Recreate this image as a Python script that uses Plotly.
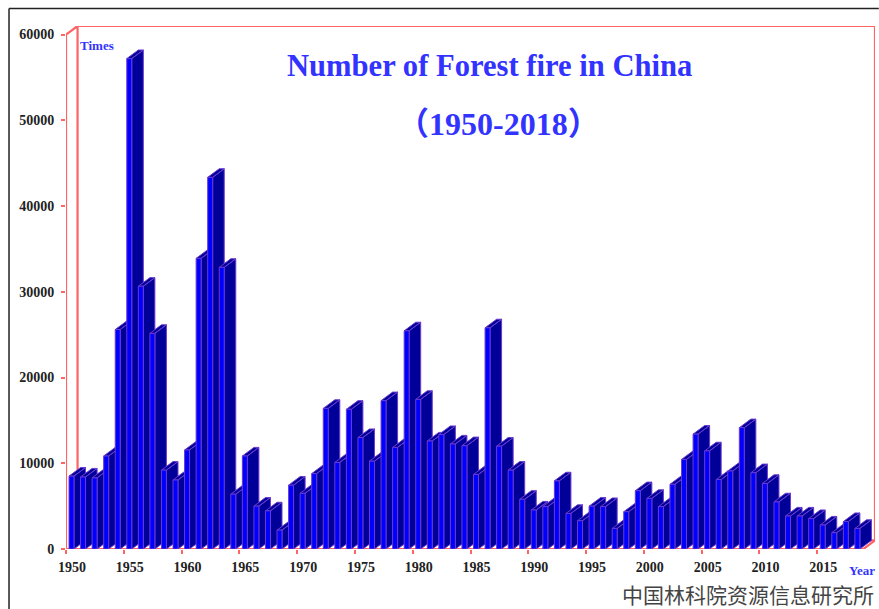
import plotly.graph_objects as go

# Annual forest fire counts in China
years = list(range(1950, 2019))
fire_counts = [
    8500, 8400, 8300, 10850, 25600, 57200, 30650, 25150, 9200, 8050,
    11550, 33900, 43350, 32850, 6400, 10850, 5000, 4450, 2200, 7450,
    6500, 8800, 16400, 10100, 16300, 13000, 10250, 17300, 11850, 25450,
    17450, 12600, 13350, 12250, 12050, 8700, 25800, 12000, 9200, 5800,
    4550, 4950, 7950, 4150, 3300, 5000, 4950, 2400, 4350, 6800,
    5900, 4950, 7550, 10450, 13400, 11450, 8100, 9100, 14150, 8900,
    7650, 5500, 3850, 3850, 3550, 2800, 1900, 3200, 2400,
]
y_ticks = [0, 10000, 20000, 30000, 40000, 50000, 60000]
x_ticks = list(range(1950, 2016, 5))

# Oblique depth of the pseudo-3D projection, in axis units
DEPTH_X = 1.0
DEPTH_Y = 1000
BAR_OFFSET = 0.26
BAR_WIDTH = 0.43

FRONT = "#0000FF"
SIDE = "#000099"
EDGE = "#6A3AD0"
WALL = "#FF6464"
LABEL_BLUE = "#3333FF"
SERIF = "Liberation Serif, Noto Sans CJK SC, serif"

W, H = 879, 609
M_L, M_R, M_T, M_B = 66, 3.8, 25.6, 60


def px(x):
    return (x - M_L) / (W - M_L - M_R)


def py(y):
    return 1 - (y - M_T) / (H - M_T - M_B)


fig = go.Figure()

# Wireframe of the chart box
wall_x = [1950, 1950, 1951, 1951, None, 1951, 2020, 2020, 2019, 1950, None, 1951, 2020]
wall_y = [0, 60000, 61000, 1000, None, 61000, 61000, 1000, 0, 0, None, 1000, 1000]
fig.add_trace(go.Scatter(x=wall_x, y=wall_y, mode="lines", hoverinfo="skip",
                         line=dict(color=WALL, width=2.2)))

# Bars, left to right, so each front face covers the previous bar's side
for year, count in zip(years, fire_counts):
    x0 = year + BAR_OFFSET
    x1 = x0 + BAR_WIDTH
    side_x = [x1, x1, x0, x0 + DEPTH_X, x1 + DEPTH_X, x1, x1 + DEPTH_X, x1 + DEPTH_X, x1]
    side_y = [0, count, count, count + DEPTH_Y, count + DEPTH_Y, count,
              count + DEPTH_Y, DEPTH_Y, 0]
    fig.add_trace(go.Scatter(x=side_x, y=side_y, mode="lines", fill="toself",
                             fillcolor=SIDE, hoverinfo="skip",
                             line=dict(color=EDGE, width=1)))
    fig.add_trace(go.Scatter(x=[x0, x0, x1, x1, x0], y=[0, count, count, 0, 0],
                             mode="lines", fill="toself", fillcolor=FRONT,
                             name=str(year), hovertemplate="%{fullData.name}<extra></extra>",
                             line=dict(color=EDGE, width=1)))

fig.update_layout(
    width=W, height=H, autosize=False,
    margin=dict(l=M_L, r=M_R, t=M_T, b=M_B),
    paper_bgcolor="white", plot_bgcolor="white",
    showlegend=False,
    font=dict(family=SERIF, color="#222222"),
    xaxis=dict(
        range=[1950, 2020], tickmode="array", tickvals=x_ticks,
        ticktext=[str(t) for t in x_ticks],
        ticks="outside", ticklen=4, tickwidth=1.5, tickcolor=WALL,
        ticklabelshift=6, ticklabelstandoff=1,
        tickfont=dict(family=SERIF, size=14, color="#222222", weight="bold"),
        showgrid=False, zeroline=False, showline=False,
    ),
    yaxis=dict(
        range=[0, 61000], tickmode="array", tickvals=y_ticks,
        ticks="outside", ticklen=4, tickwidth=1.5, tickcolor=WALL,
        ticklabelstandoff=4, tickformat="d",
        tickfont=dict(family=SERIF, size=14, color="#222222", weight="bold"),
        showgrid=False, zeroline=False, showline=False,
    ),
    shapes=[
        dict(type="line", xref="paper", yref="paper", x0=px(9), x1=px(879), y0=py(8), y1=py(8),
             line=dict(color="#222222", width=1.5)),
        dict(type="line", xref="paper", yref="paper", x0=px(9), x1=px(9), y0=py(8), y1=py(609),
             line=dict(color="#222222", width=1.5)),
    ],
    annotations=[
        dict(text="<b>Number of Forest fire in China</b>", xref="paper", yref="paper",
             x=px(490), y=py(65.5), xanchor="center", yanchor="middle", showarrow=False,
             font=dict(family=SERIF, size=30.6, color=LABEL_BLUE)),
        dict(text="<b>（1950-2018）</b>", xref="paper", yref="paper",
             x=px(498.5), y=py(124), xanchor="center", yanchor="middle", showarrow=False,
             font=dict(family=SERIF, size=32, color=LABEL_BLUE)),
        dict(text="<b>Times</b>", xref="paper", yref="paper",
             x=px(78), y=py(45), xanchor="left", yanchor="middle", showarrow=False,
             font=dict(family=SERIF, size=13, color=LABEL_BLUE)),
        dict(text="<b>Year</b>", xref="paper", yref="paper",
             x=px(847), y=py(571), xanchor="left", yanchor="middle", showarrow=False,
             font=dict(family=SERIF, size=13, color=LABEL_BLUE)),
        dict(text="中国林科院资源信息研究所", xref="paper", yref="paper",
             x=px(620), y=py(594), xanchor="left", yanchor="middle", showarrow=False,
             font=dict(family="Noto Sans CJK SC", size=21, color="#444444")),
    ],
)

fig.write_html("out.html")
